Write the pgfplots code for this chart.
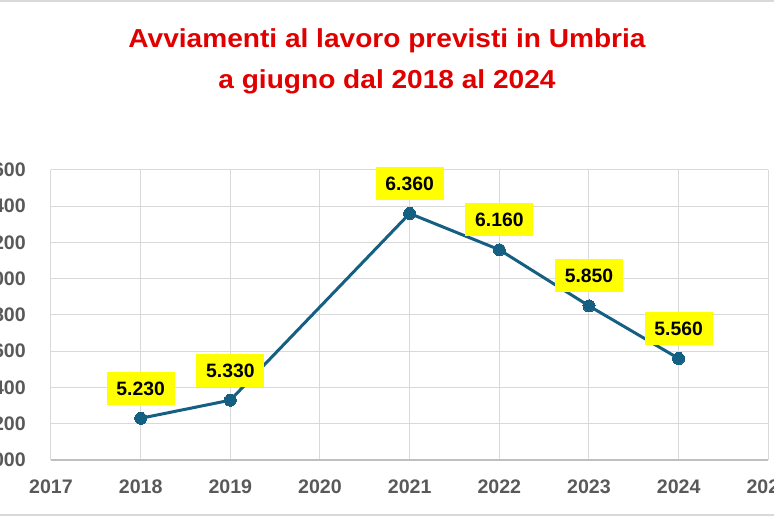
\documentclass[border=0pt]{standalone}
\usepackage{fontspec}
\setmainfont{Liberation Sans}
\usepackage{pgfplots}
\pgfplotsset{compat=1.18}
\definecolor{titlered}{RGB}{224,0,0}
\definecolor{linecol}{HTML}{156082}
\definecolor{gridcol}{HTML}{D9D9D9}
\definecolor{axiscol}{HTML}{BFBFBF}
\definecolor{tickcol}{HTML}{595959}
\definecolor{labelyellow}{HTML}{FFFF00}
\begin{document}
\begin{tikzpicture}
\path[use as bounding box] (0,0) rectangle (580.5pt,387pt);
\clip (0,0) rectangle (580.5pt,387pt);
\draw[gridcol, line width=1.5pt] (0,386pt) -- (580.5pt,386pt);
\draw[gridcol, line width=1.5pt] (0,0.9pt) -- (580.5pt,0.9pt);
\node[anchor=base, text=titlered, font=\fontsize{19.5}{19.5}\selectfont\bfseries] at (290.25pt,351pt) {\scalebox{1.08}[1]{Avviamenti al lavoro previsti in Umbria}};
\node[anchor=base, text=titlered, font=\fontsize{19.5}{19.5}\selectfont\bfseries] at (290.25pt,320.25pt) {\scalebox{1.08}[1]{a giugno dal 2018 al 2024}};
\begin{axis}[
  at={(38.25pt,42pt)}, anchor=south west,
  scale only axis, width=538pt, height=217.5pt,
  xmin=2017, xmax=2025, ymin=5000, ymax=6600,
  xtick={2017,2018,...,2025}, ytick={5000,5200,...,6600},
  grid=major, major grid style={draw=gridcol, line width=0.75pt},
  axis x line*=bottom, axis y line*=left,
  x axis line style={draw=axiscol, line width=0.9pt, -},
  y axis line style={draw=gridcol, line width=0.75pt, -},
  major tick length=0pt,
  /pgf/number format/assume math mode=true,
  ticklabel style={font=\fontsize{14.7}{14.7}\selectfont\bfseries, text=tickcol, inner sep=0pt},
  xticklabel={\pgfmathprintnumber[1000 sep={}]{\tick}},
  yticklabel={\pgfmathprintnumber[1000 sep={.}]{\tick}},
  xticklabel style={anchor=base, yshift=-25.5pt},
  yticklabel style={anchor=east, xshift=-18.75pt},
  clip=false,
  nodes near coords={\pgfmathprintnumber[1000 sep={.}]{\pgfplotspointmeta}},
  nodes near coords style={fill=labelyellow, text=black, font=\fontsize{14.5}{14.5}\selectfont\bfseries,
    inner sep=0pt, minimum width=51pt, minimum height=24.75pt, text height=10.4pt, text depth=0pt,
    anchor=center, yshift=22.5pt},
]
\addplot[linecol, line width=2.25pt, mark=*, mark size=4.5pt, mark options={fill=linecol, draw=linecol, line width=0pt}]
  coordinates {(2018,5230) (2019,5330) (2021,6360) (2022,6160) (2023,5850) (2024,5560)};
\end{axis}
\end{tikzpicture}
\end{document}
